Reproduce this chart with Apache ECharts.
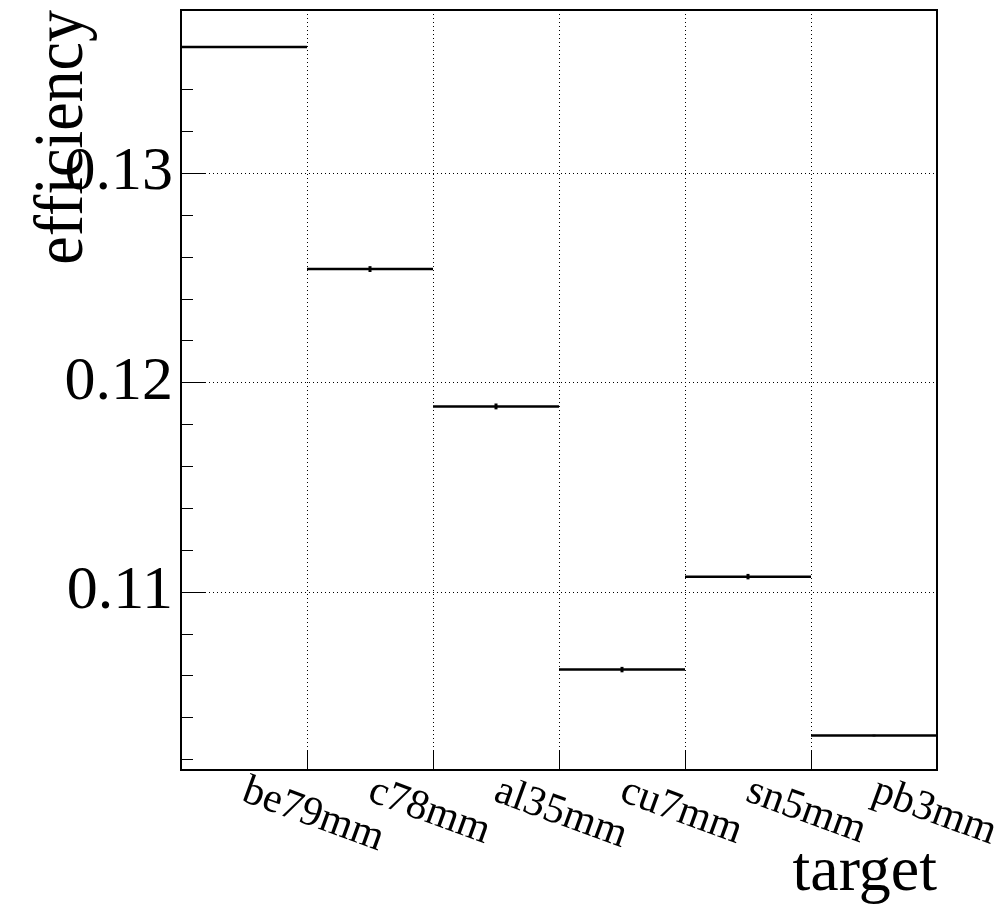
<!DOCTYPE html>
<html>
<head>
<meta charset="utf-8">
<script src="https://cdn.jsdelivr.net/npm/echarts@6/dist/echarts.min.js"></script>
<style>
html,body{margin:0;padding:0;background:#fff;}
#chart{width:1005px;height:905px;}
</style>
</head>
<body>
<div id="chart"></div>
<script>
// ---- data ----
const categories = ['be79mm', 'c78mm', 'al35mm', 'cu7mm', 'sn5mm', 'pb3mm'];
const efficiency = [0.13603, 0.12542, 0.11886, 0.10629, 0.11073, 0.10314];
const efficiencyErr = [0.00004, 0.00014, 0.00014, 0.00013, 0.00013, 0.00004];
const yMajorTicks = [0.11, 0.12, 0.13];
const yMinorTicks = [0.102, 0.104, 0.106, 0.108, 0.112, 0.114, 0.116, 0.118,
                     0.122, 0.124, 0.126, 0.128, 0.132, 0.134, 0.136];
const yMin = 0.101494;
const yMax = 0.137795;

const FONT = '"Liberation Serif", "DejaVu Serif", serif';

const seriesData = categories.map((c, i) => [i, efficiency[i], efficiencyErr[i]]);

const chart = echarts.init(document.getElementById('chart'), null, {renderer: 'canvas'});

const option = {
  animation: false,
  backgroundColor: '#ffffff',
  grid: {
    left: 181, top: 10, right: 68, bottom: 135,
    show: true, borderColor: '#000', borderWidth: 2, backgroundColor: 'transparent'
  },
  xAxis: {
    type: 'category',
    data: categories,
    boundaryGap: true,
    axisLine: {show: true, lineStyle: {color: '#000', width: 2}},
    axisTick: {show: true, inside: true, length: 20, interval: 0, lineStyle: {color: '#000', width: 1}},
    axisLabel: {
      rotate: -20, margin: 20, interval: 0, color: '#000',
      fontFamily: FONT, fontSize: 42
    },
    splitLine: {show: true, interval: 0, lineStyle: {color: '#000', width: 1, type: [1, 3]}}
  },
  yAxis: [
    {
      type: 'value', min: yMin, max: yMax,
      axisLine: {show: true, lineStyle: {color: '#000', width: 2}},
      axisTick: {show: true, inside: true, length: 24, customValues: yMajorTicks,
                 lineStyle: {color: '#000', width: 1}},
      axisLabel: {show: true, customValues: yMajorTicks, margin: 8, color: '#000',
                  fontFamily: FONT, fontSize: 62,
                  formatter: v => v.toFixed(2)},
      splitLine: {show: false}
    },
    {
      type: 'value', min: yMin, max: yMax, position: 'left',
      axisLine: {show: false},
      axisTick: {show: true, inside: true, length: 12, customValues: yMinorTicks,
                 lineStyle: {color: '#000', width: 1}},
      axisLabel: {show: false},
      splitLine: {show: false}
    }
  ],
  graphic: [
    {
      type: 'text', x: 64, y: 10, rotation: Math.PI / 2, scaleY: 1.1,
      style: {text: 'efficiency', fill: '#000', font: '64px ' + FONT,
              align: 'right', verticalAlign: 'middle'}
    },
    {
      type: 'text', x: 937, y: 873,
      style: {text: 'target', fill: '#000', font: '64px ' + FONT,
              align: 'right', verticalAlign: 'middle'}
    }
  ],
  series: [
    {
      type: 'line', data: [], silent: true,
      markLine: {
        silent: true, symbol: 'none', label: {show: false},
        lineStyle: {color: '#000', width: 1, type: [1, 3]},
        data: yMajorTicks.map(v => ({yAxis: v}))
      }
    },
    {
      type: 'custom',
      data: seriesData,
      encode: {x: 0, y: 1},
      z: 5,
      renderItem: function (params, api) {
        const i = api.value(0), v = api.value(1), e = api.value(2);
        const c = api.coord([i, v]);
        const w = api.size([1, 0])[0];
        const hi = api.coord([i, v + e]);
        const lo = api.coord([i, v - e]);
        return {
          type: 'group',
          children: [
            {type: 'line', shape: {x1: c[0] - w / 2, y1: c[1], x2: c[0] + w / 2, y2: c[1]},
             style: {stroke: '#000', lineWidth: 2.5}},
            {type: 'line', shape: {x1: c[0], y1: hi[1], x2: c[0], y2: lo[1]},
             style: {stroke: '#000', lineWidth: 3}}
          ]
        };
      }
    }
  ]
};
chart.setOption(option);
</script>
</body>
</html>
